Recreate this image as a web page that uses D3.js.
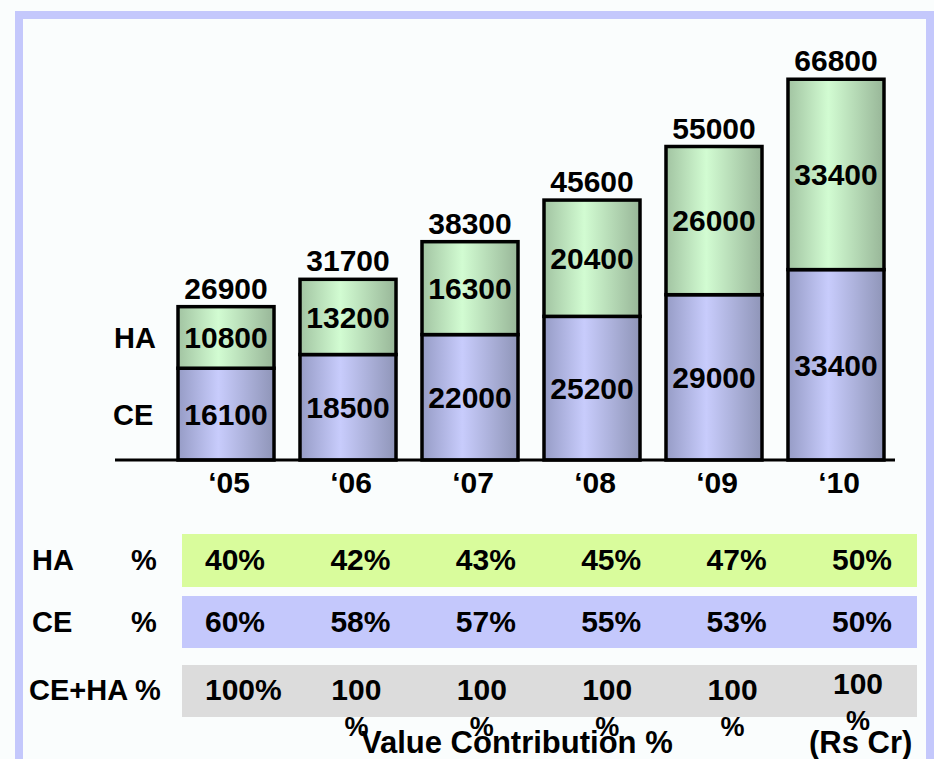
<!DOCTYPE html>
<html>
<head>
<meta charset="utf-8">
<script src="https://cdn.jsdelivr.net/npm/d3@7"></script>
<style>
  body { margin: 0; background: #fafdfd; }
  svg text { font-family: "Liberation Sans", Arial, sans-serif; font-weight: bold; fill: #000; }
</style>
</head>
<body>
<div id="chart"></div>
<script>
// data
var years = ["\u201805", "\u201806", "\u201807", "\u201808", "\u201809", "\u201810"];
var ce = [16100, 18500, 22000, 25200, 29000, 33400];
var ha = [10800, 13200, 16300, 20400, 26000, 33400];
var haPct = ["40%", "42%", "43%", "45%", "47%", "50%"];
var cePct = ["60%", "58%", "57%", "55%", "53%", "50%"];
var sumPct = ["100%", "100%", "100%", "100%", "100%", "100%"];

var width = 934, height = 759;

var svg = d3.select("#chart")
  .append("svg")
  .attr("width", width)
  .attr("height", height);

// slide frame
svg.append("rect")
  .attr("x", 19).attr("y", 15)
  .attr("width", 911).attr("height", 800)
  .attr("fill", "#fafdfd")
  .attr("stroke", "#c4c8fc")
  .attr("stroke-width", 8);

// gradients for the bars
var defs = svg.append("defs");
function grad(id, edge, mid, edge2) {
  var g = defs.append("linearGradient").attr("id", id)
    .attr("x1", "0%").attr("x2", "100%").attr("y1", "0%").attr("y2", "0%");
  g.append("stop").attr("offset", "0%").attr("stop-color", edge);
  g.append("stop").attr("offset", "42%").attr("stop-color", mid);
  g.append("stop").attr("offset", "100%").attr("stop-color", edge2);
}
grad("gCE", "#969cc6", "#c8ccfc", "#8f95b8");
grad("gHA", "#a2c4a2", "#d2fcd2", "#98b698");

var rows = years.map(function(y, i) { return {year: y, CE: ce[i], HA: ha[i]}; });
var stack = d3.stack().keys(["CE", "HA"])(rows);

var x = d3.scaleBand()
  .domain(years)
  .range([165, 897])
  .paddingInner(0.213)
  .paddingOuter(0.1066);

var y = d3.scaleLinear()
  .domain([0, 70000])
  .range([460, 61]);

// bars
var layer = svg.selectAll(".layer")
  .data(stack)
  .enter().append("g")
  .attr("class", "layer")
  .attr("fill", function(d) { return d.key === "CE" ? "url(#gCE)" : "url(#gHA)"; });

layer.selectAll("rect")
  .data(function(d) { return d; })
  .enter().append("rect")
  .attr("x", function(d) { return x(d.data.year); })
  .attr("y", function(d) { return y(d[1]); })
  .attr("width", x.bandwidth())
  .attr("height", function(d) { return y(d[0]) - y(d[1]); })
  .attr("stroke", "#000")
  .attr("stroke-width", 3.5);

// segment labels
layer.selectAll("text")
  .data(function(d) { return d; })
  .enter().append("text")
  .attr("x", function(d) { return x(d.data.year) + x.bandwidth() / 2; })
  .attr("y", function(d) { return (y(d[0]) + y(d[1])) / 2; })
  .attr("dy", "0.36em")
  .attr("text-anchor", "middle")
  .style("font-size", "30px")
  .text(function(d) { return d[1] - d[0]; });

// baseline
svg.append("line")
  .attr("x1", 115).attr("x2", 895)
  .attr("y1", y(0)).attr("y2", y(0))
  .attr("stroke", "#000")
  .attr("stroke-width", 3);

// totals on top
var topLayer = stack[stack.length - 1];
svg.selectAll(".total")
  .data(topLayer)
  .enter().append("text")
  .attr("class", "total")
  .attr("x", function(d) { return x(d.data.year) + x.bandwidth() / 2; })
  .attr("y", function(d) { return y(d[1]) - 8; })
  .attr("text-anchor", "middle")
  .style("font-size", "30px")
  .text(function(d) { return d[1]; });

// year axis
var xAxis = svg.append("g")
  .attr("transform", "translate(3," + 472 + ")")
  .call(d3.axisBottom(x).tickSize(0).tickPadding(0));
xAxis.select(".domain").remove();
xAxis.selectAll("text")
  .attr("dy", "0.71em")
  .style("font-size", "30px")
  .style("font-family", "'Liberation Sans', Arial, sans-serif")
  .style("font-weight", "bold");

// series names beside the first bar
svg.append("text")
  .attr("x", 114)
  .attr("y", (y(stack[1][0][0]) + y(stack[1][0][1])) / 2)
  .attr("dy", "0.36em")
  .style("font-size", "29px")
  .text("HA");
svg.append("text")
  .attr("x", 113)
  .attr("y", (y(stack[0][0][0]) + y(stack[0][0][1])) / 2)
  .attr("dy", "0.36em")
  .style("font-size", "29px")
  .text("CE");

// value contribution table
var col = d3.scalePoint()
  .domain(years)
  .range([205, 832]);

var table = [
  {name: "HA", pct: "%", vals: haPct, fill: "#d9fc9c", y0: 534, y1: 587, base: 570},
  {name: "CE", pct: "%", vals: cePct, fill: "#c4c8fc", y0: 596, y1: 648, base: 632},
  {name: "CE+HA %", pct: "", vals: sumPct, fill: "#dcdcdc", y0: 665, y1: 717, base: 700}
];

table.forEach(function(r, ri) {
  svg.append("rect")
    .attr("x", 182).attr("y", r.y0)
    .attr("width", 735).attr("height", r.y1 - r.y0)
    .attr("fill", r.fill);
  svg.append("text")
    .attr("x", ri === 2 ? 29 : 32).attr("y", r.base)
    .style("font-size", "29px")
    .text(r.name);
  if (r.pct) {
    svg.append("text")
      .attr("x", 131).attr("y", r.base)
      .style("font-size", "29px")
      .text(r.pct);
  }
  svg.selectAll(".cell" + ri)
    .data(r.vals)
    .enter().append("text")
    .attr("class", "cell" + ri)
    .style("font-size", "30px")
    .each(function(v, i) {
      var t = d3.select(this);
      if (ri === 2 && i > 0) {
        // the "100%" cells are too narrow, so the % wraps under the number
        var num = v.replace("%", "");
        var cx = col(years[i]) + 26;
        var b = i === years.length - 1 ? r.base - 6 : r.base;
        t.attr("text-anchor", "middle");
        t.append("tspan").attr("x", cx).attr("y", b).text(num);
        t.append("tspan").attr("x", cx).attr("y", b + 36)
          .style("font-size", "27px").text("%");
      } else {
        t.attr("x", col(years[i])).attr("y", r.base).text(v);
      }
    });
});

// footer captions
svg.append("text")
  .attr("x", 361).attr("y", 753)
  .style("font-size", "31px")
  .text("Value Contribution %");
svg.append("text")
  .attr("x", 809).attr("y", 753)
  .style("font-size", "31px")
  .text("(Rs Cr)");
</script>
</body>
</html>
